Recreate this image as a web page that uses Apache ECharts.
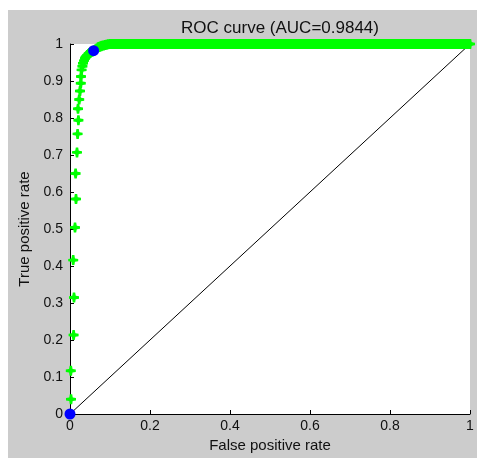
<!DOCTYPE html>
<html>
<head>
<meta charset="utf-8">
<script src="https://cdn.jsdelivr.net/npm/echarts@6/dist/echarts.min.js"></script>
<style>
html,body{margin:0;padding:0;background:#fff;}
#c{width:477px;height:458px;}
</style>
</head>
<body>
<div id="c"></div>
<script>
// ROC curve, rising part (false positive rate, true positive rate)
var riseFpr = [0, 0.0025, 0.002, 0.009, 0.01, 0.008, 0.0125, 0.015, 0.014, 0.0175, 0.019, 0.021, 0.02, 0.023, 0.025, 0.027, 0.0275, 0.029, 0.031, 0.0325, 0.035, 0.0375, 0.039, 0.041, 0.043, 0.046, 0.048, 0.05, 0.052, 0.054, 0.056, 0.059, 0.062, 0.064, 0.067, 0.07, 0.073, 0.075, 0.078, 0.08, 0.084, 0.0875, 0.091, 0.095];
var riseTpr = [0, 0.04, 0.117, 0.2135, 0.315, 0.416, 0.504, 0.581, 0.65, 0.707, 0.757, 0.794, 0.825, 0.85, 0.873, 0.894, 0.912, 0.93, 0.94, 0.948, 0.955, 0.961, 0.964, 0.967, 0.97, 0.973, 0.975, 0.976, 0.978, 0.979, 0.98, 0.982, 0.984, 0.986, 0.988, 0.991, 0.992, 0.993, 0.994, 0.995, 0.996, 0.997, 0.998, 0.999];
// ROC curve, flat part along TPR = 1
var topFpr = [
  0.100, 0.105, 0.110, 0.115, 0.120, 0.125, 0.130, 0.135, 0.140, 0.145,
  0.150, 0.155, 0.160, 0.165, 0.170, 0.175, 0.180, 0.185, 0.190, 0.195,
  0.200, 0.205, 0.210, 0.215, 0.220, 0.225, 0.230, 0.235, 0.240, 0.245,
  0.250, 0.255, 0.260, 0.265, 0.270, 0.275, 0.280, 0.285, 0.290, 0.295,
  0.300, 0.305, 0.310, 0.315, 0.320, 0.325, 0.330, 0.335, 0.340, 0.345,
  0.350, 0.355, 0.360, 0.365, 0.370, 0.375, 0.380, 0.385, 0.390, 0.395,
  0.400, 0.405, 0.410, 0.415, 0.420, 0.425, 0.430, 0.435, 0.440, 0.445,
  0.450, 0.455, 0.460, 0.465, 0.470, 0.475, 0.480, 0.485, 0.490, 0.495,
  0.500, 0.505, 0.510, 0.515, 0.520, 0.525, 0.530, 0.535, 0.540, 0.545,
  0.550, 0.555, 0.560, 0.565, 0.570, 0.575, 0.580, 0.585, 0.590, 0.595,
  0.600, 0.605, 0.610, 0.615, 0.620, 0.625, 0.630, 0.635, 0.640, 0.645,
  0.650, 0.655, 0.660, 0.665, 0.670, 0.675, 0.680, 0.685, 0.690, 0.695,
  0.700, 0.705, 0.710, 0.715, 0.720, 0.725, 0.730, 0.735, 0.740, 0.745,
  0.750, 0.755, 0.760, 0.765, 0.770, 0.775, 0.780, 0.785, 0.790, 0.795,
  0.800, 0.805, 0.810, 0.815, 0.820, 0.825, 0.830, 0.835, 0.840, 0.845,
  0.850, 0.855, 0.860, 0.865, 0.870, 0.875, 0.880, 0.885, 0.890, 0.895,
  0.900, 0.905, 0.910, 0.915, 0.920, 0.925, 0.930, 0.935, 0.940, 0.945,
  0.950, 0.955, 0.960, 0.965, 0.970, 0.975, 0.980, 0.985, 0.990, 0.995,
  1.000];
var topTpr = [
  1, 1, 1, 1, 1, 1, 1, 1, 1, 1,
  1, 1, 1, 1, 1, 1, 1, 1, 1, 1,
  1, 1, 1, 1, 1, 1, 1, 1, 1, 1,
  1, 1, 1, 1, 1, 1, 1, 1, 1, 1,
  1, 1, 1, 1, 1, 1, 1, 1, 1, 1,
  1, 1, 1, 1, 1, 1, 1, 1, 1, 1,
  1, 1, 1, 1, 1, 1, 1, 1, 1, 1,
  1, 1, 1, 1, 1, 1, 1, 1, 1, 1,
  1, 1, 1, 1, 1, 1, 1, 1, 1, 1,
  1, 1, 1, 1, 1, 1, 1, 1, 1, 1,
  1, 1, 1, 1, 1, 1, 1, 1, 1, 1,
  1, 1, 1, 1, 1, 1, 1, 1, 1, 1,
  1, 1, 1, 1, 1, 1, 1, 1, 1, 1,
  1, 1, 1, 1, 1, 1, 1, 1, 1, 1,
  1, 1, 1, 1, 1, 1, 1, 1, 1, 1,
  1, 1, 1, 1, 1, 1, 1, 1, 1, 1,
  1, 1, 1, 1, 1, 1, 1, 1, 1, 1,
  1, 1, 1, 1, 1, 1, 1, 1, 1, 1,
  1];
// highlighted points
var markFpr = [0, 0.059];
var markTpr = [0, 0.982];
// chance diagonal
var diagFpr = [0, 1];
var diagTpr = [0, 1];
var titleText = 'ROC curve (AUC=0.9844)';
var xName = 'False positive rate';
var yName = 'True positive rate';

function zip(a, b) { return a.map(function (v, i) { return [v, b[i]]; }); }

var FONT = '"Liberation Sans", Arial, sans-serif';
var chart = echarts.init(document.getElementById('c'), null, {renderer: 'canvas'});
var star = 'path://M-1.2,-5 L1.2,-5 L1.7,-1.9 L1.9,-1.7 L5,-1.2 L5,1.2 L1.9,1.7 L1.7,1.9 L1.2,5 L-1.2,5 L-1.7,1.9 L-1.9,1.7 L-5,1.2 L-5,-1.2 L-1.9,-1.7 L-1.7,-1.9 Z';

chart.setOption({
  animation: false,
  backgroundColor: '#ffffff',
  graphic: [
    {type: 'rect', z: -10, silent: true, shape: {x: 8, y: 10, width: 469, height: 448}, style: {fill: '#cccccc'}},
    {type: 'text', z: 10, x: 280, y: 28, style: {text: titleText, fill: '#111', font: '17px ' + FONT, align: 'center', verticalAlign: 'middle'}}
  ],
  grid: {left: 70, top: 44, width: 400, height: 370, show: true, backgroundColor: '#ffffff', borderWidth: 0, containLabel: false},
  xAxis: {
    type: 'value', min: 0, max: 1, interval: 0.2,
    name: xName, nameLocation: 'middle', nameGap: 21,
    nameTextStyle: {color: '#111', fontSize: 15, fontFamily: FONT},
    axisLine: {show: true, onZero: false, lineStyle: {color: '#000', width: 1}},
    axisTick: {show: true, inside: true, length: 4, lineStyle: {color: '#000'}},
    axisLabel: {color: '#111', fontSize: 14, fontFamily: FONT, margin: 5},
    splitLine: {show: false}
  },
  yAxis: {
    type: 'value', min: 0, max: 1, interval: 0.1,
    name: yName, nameLocation: 'middle', nameGap: 36, nameRotate: 90,
    nameTextStyle: {color: '#111', fontSize: 15, fontFamily: FONT},
    axisLine: {show: true, onZero: false, lineStyle: {color: '#000', width: 1}},
    axisTick: {show: true, inside: true, length: 4, lineStyle: {color: '#000'}},
    axisLabel: {color: '#111', fontSize: 14, fontFamily: FONT, margin: 7},
    splitLine: {show: false}
  },
  series: [
    {type: 'line', data: zip(diagFpr, diagTpr), showSymbol: false, symbol: 'none', z: 1,
     lineStyle: {color: '#000', width: 1}, silent: true},
    {type: 'scatter', data: zip(riseFpr, riseTpr).concat(zip(topFpr, topTpr)), symbol: star, symbolSize: 10, clip: false, z: 3,
     large: false, itemStyle: {color: '#00ff00', opacity: 1}},
    {type: 'scatter', data: zip(markFpr, markTpr), symbol: 'circle', symbolSize: 11, clip: false, z: 4,
     itemStyle: {color: '#0000ff', opacity: 1}}
  ]
});
</script>
</body>
</html>
